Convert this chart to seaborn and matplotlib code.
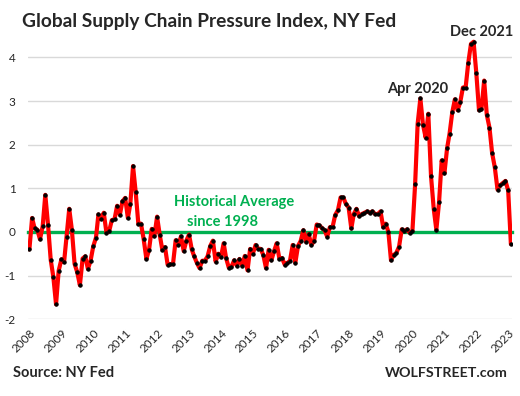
import numpy as np
import pandas as pd
import matplotlib
matplotlib.use("Agg")
import matplotlib.pyplot as plt
import seaborn as sns

# GSCPI monthly readings, Jan 2008 - Feb 2023
gscpi_2008 = [-0.40, 0.32, 0.08, 0.05, -0.17, 0.13, 0.85, 0.17, -0.64, -1.03, -1.66, -0.89]
gscpi_2009 = [-0.63, -0.69, -0.11, 0.53, 0.05, -0.73, -0.92, -1.22, -0.61, -0.56, -0.85, -0.66]
gscpi_2010 = [-0.33, -0.13, 0.40, 0.30, 0.44, -0.02, 0.01, 0.27, 0.29, 0.60, 0.39, 0.70]
gscpi_2011 = [0.78, 0.32, 0.64, 1.51, 0.92, 0.18, 0.19, -0.17, -0.62, -0.41, 0.07, -0.10]
gscpi_2012 = [0.35, -0.07, -0.41, -0.35, -0.75, -0.74, -0.74, -0.19, -0.30, -0.10, -0.44, -0.20]
gscpi_2013 = [-0.06, -0.40, -0.56, -0.71, -0.83, -0.66, -0.66, -0.56, -0.32, -0.20, -0.68, -0.50]
gscpi_2014 = [-0.58, -0.26, -0.60, -0.82, -0.80, -0.65, -0.77, -0.62, -0.77, -0.55, -0.88, -0.39]
gscpi_2015 = [-0.50, -0.30, -0.38, -0.39, -0.53, -0.83, -0.41, -0.65, -0.44, -0.26, -0.62, -0.60]
gscpi_2016 = [-0.75, -0.71, -0.66, -0.30, -0.71, -0.32, -0.21, 0.04, -0.23, -0.05, -0.30, -0.21]
gscpi_2017 = [0.17, 0.15, 0.09, 0.04, -0.11, 0.11, 0.11, 0.39, 0.50, 0.79, 0.79, 0.64]
gscpi_2018 = [0.56, 0.08, 0.41, 0.53, 0.36, 0.41, 0.44, 0.47, 0.44, 0.47, 0.41, 0.41]
gscpi_2019 = [0.47, 0.11, 0.19, 0.00, -0.65, -0.53, -0.48, -0.34, 0.06, 0.02, 0.06, -0.02]
gscpi_2020 = [0.02, 1.09, 2.48, 3.06, 2.46, 2.16, 2.71, 1.28, 0.53, 0.05, 0.68, 1.64]
gscpi_2021 = [1.34, 1.92, 2.25, 2.74, 3.04, 2.79, 2.97, 3.31, 3.31, 3.87, 4.31, 4.36]
gscpi_2022 = [3.65, 2.79, 2.81, 3.47, 2.69, 2.39, 1.81, 1.48, 0.97, 1.07, 1.12, 1.17]
gscpi_2023 = [0.95, -0.28]

years = list(range(2008, 2024))
y_ticks = [-2, -1, 0, 1, 2, 3, 4]

values = (gscpi_2008 + gscpi_2009 + gscpi_2010 + gscpi_2011 + gscpi_2012 + gscpi_2013
          + gscpi_2014 + gscpi_2015 + gscpi_2016 + gscpi_2017 + gscpi_2018 + gscpi_2019
          + gscpi_2020 + gscpi_2021 + gscpi_2022 + gscpi_2023)
df = pd.DataFrame({
    "date": pd.date_range("2008-01-01", periods=len(values), freq="MS"),
    "gscpi": values,
})

sns.set_style("white")
plt.rcParams["font.family"] = ["Lato", "DejaVu Sans"]

GREEN = "#00b050"

fig = plt.figure(figsize=(5.2, 3.96), dpi=100)
ax = fig.add_axes([0.054, 0.194, 0.931, 0.716])

sns.lineplot(data=df, x="date", y="gscpi", ax=ax, color="#ff0000", linewidth=3.0,
             marker="o", markersize=2.4, markerfacecolor="black",
             markeredgecolor="black", zorder=3)

ax.set_ylim(-2, 4.5)
ax.set_xlim(pd.Timestamp("2007-12-17"), pd.Timestamp("2023-02-16"))
ax.set_yticks(y_ticks)
ax.set_yticklabels([str(v) for v in y_ticks], fontsize=8.5)
ax.tick_params(axis="y", length=0, pad=9)
ax.yaxis.grid(True, color="#d9d9d9", linewidth=1)
ax.set_axisbelow(True)
for side in ["top", "right", "left"]:
    ax.spines[side].set_visible(False)

# zero axis in green with year ticks on it
year_starts = [pd.Timestamp(f"{y}-01-01") for y in years]
ax.spines["bottom"].set_position(("data", 0))
ax.spines["bottom"].set_color(GREEN)
ax.spines["bottom"].set_linewidth(2.4)
ax.spines["bottom"].set_zorder(2)
ax.set_xticks(year_starts)
ax.tick_params(axis="x", colors=GREEN, length=3.5, width=1.5, labelbottom=False)
ax.set_xlabel("")
ax.set_ylabel("")

# year labels along the bottom of the plot
sec = ax.secondary_xaxis("bottom")
sec.set_xticks(year_starts)
sec.set_xticklabels([str(y) for y in years], rotation=45, ha="right",
                    rotation_mode="anchor", fontsize=8.5)
sec.tick_params(length=0, pad=6)
sec.spines["bottom"].set_visible(False)

fig.text(0.042, 0.933, "Global Supply Chain Pressure Index, NY Fed",
         fontsize=13.8, fontweight="bold", ha="left", va="baseline")
ax.annotate("Dec 2021", xy=(pd.Timestamp("2021-12-01"), 4.36), xytext=(6, 2),
            textcoords="offset points", ha="center", va="bottom",
            fontsize=10.5, fontweight="bold")
ax.annotate("Apr 2020", xy=(pd.Timestamp("2020-04-01"), 3.06), xytext=(-2, 2),
            textcoords="offset points", ha="center", va="bottom",
            fontsize=10.5, fontweight="bold")
ax.text(pd.Timestamp("2014-06-01"), 0.69, "Historical Average", color=GREEN,
        fontsize=10.5, fontweight="bold", ha="center", va="center")
ax.text(pd.Timestamp("2014-01-15"), 0.23, "since 1998", color=GREEN,
        fontsize=10.5, fontweight="bold", ha="center", va="center")

fig.text(0.025, 0.057, "Source: NY Fed", fontsize=10.5, fontweight="bold",
         ha="left", va="center")
fig.text(0.977, 0.057, "WOLFSTREET.com", fontsize=10.3, fontweight="bold",
         ha="right", va="center")

fig.savefig("out.png", dpi=100)
